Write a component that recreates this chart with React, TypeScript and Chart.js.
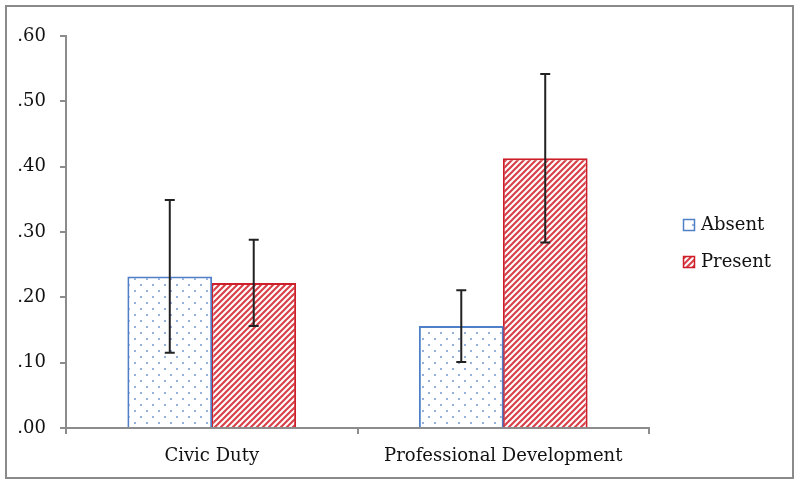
import React, { useEffect, useRef } from "react";
import { Chart, registerables } from "chart.js";

Chart.register(...registerables);

const categories = ["Civic Duty", "Professional Development"];
const seriesNames = ["Absent", "Present"];
const absentValues = [0.232, 0.156];
const presentValues = [0.222, 0.413];
const absentErrors = [0.117, 0.055];
const presentErrors = [0.066, 0.129];
const yMin = 0;
const yMax = 0.6;
const yStep = 0.1;

const FONT = "'DejaVu Serif', 'Liberation Serif', serif";
const BLUE = "#4f7fc6";
const RED = "#cc1f2a";
const AXIS = "#8c8c8c";

function makeDotPattern(): CanvasPattern | string {
  const c = document.createElement("canvas");
  c.width = 12;
  c.height = 12;
  const g = c.getContext("2d");
  if (!g) return "#ffffff";
  g.fillStyle = "#ffffff";
  g.fillRect(0, 0, 12, 12);
  g.fillStyle = "#7f9fd6";
  g.beginPath();
  g.arc(3, 3, 1.1, 0, Math.PI * 2);
  g.arc(9, 9, 1.1, 0, Math.PI * 2);
  g.fill();
  return g.createPattern(c, "repeat") || "#ffffff";
}

function makeStripePattern(): CanvasPattern | string {
  const s = 6;
  const c = document.createElement("canvas");
  c.width = s;
  c.height = s;
  const g = c.getContext("2d");
  if (!g) return RED;
  g.fillStyle = "#ffffff";
  g.fillRect(0, 0, s, s);
  g.strokeStyle = "#d8424a";
  g.lineWidth = 2.2;
  g.beginPath();
  g.moveTo(-1, s + 1);
  g.lineTo(s + 1, -1);
  g.moveTo(-1, 1);
  g.lineTo(1, -1);
  g.moveTo(s - 1, s + 1);
  g.lineTo(s + 1, s - 1);
  g.stroke();
  return g.createPattern(c, "repeat") || RED;
}

export default function App() {
  const ref = useRef<HTMLCanvasElement | null>(null);

  useEffect(() => {
    document.body.style.margin = "0";
    const canvas = ref.current;
    if (!canvas) return;
    const dots = makeDotPattern();
    const stripes = makeStripePattern();
    const errors = [absentErrors, presentErrors];
    const borderColors = [BLUE, RED];

    const frame = {
      id: "frame",
      beforeDraw(chart: any) {
        const ctx = chart.ctx;
        ctx.save();
        ctx.fillStyle = "#ffffff";
        ctx.fillRect(0, 0, chart.width, chart.height);
        ctx.strokeStyle = "#8a8a8a";
        ctx.lineWidth = 2;
        ctx.strokeRect(6, 6, 787, 472);
        ctx.restore();
      },
    };

    const errorBars = {
      id: "errorBars",
      afterDatasetsDraw(chart: any) {
        const ctx = chart.ctx;
        const y = chart.scales.y;
        ctx.save();
        ctx.strokeStyle = "#222222";
        ctx.lineWidth = 2;
        chart.data.datasets.forEach((ds: any, di: number) => {
          const meta = chart.getDatasetMeta(di);
          meta.data.forEach((bar: any, i: number) => {
            const v = ds.data[i];
            const e = errors[di][i];
            const x = bar.x;
            const yt = y.getPixelForValue(v + e);
            const yb = y.getPixelForValue(v - e);
            ctx.beginPath();
            ctx.moveTo(x, yt);
            ctx.lineTo(x, yb);
            ctx.moveTo(x - 5, yt);
            ctx.lineTo(x + 5, yt);
            ctx.moveTo(x - 5, yb);
            ctx.lineTo(x + 5, yb);
            ctx.stroke();
          });
        });
        ctx.restore();
      },
    };

    const legend = {
      id: "customLegend",
      afterDraw(chart: any) {
        const ctx = chart.ctx;
        ctx.save();
        const ys = [225, 262];
        chart.data.datasets.forEach((ds: any, di: number) => {
          const cy = ys[di];
          ctx.fillStyle = ds.backgroundColor;
          ctx.fillRect(683, cy - 6, 12, 12);
          ctx.strokeStyle = borderColors[di];
          ctx.lineWidth = 1.5;
          ctx.strokeRect(683.5, cy - 5.5, 11, 11);
          ctx.fillStyle = "#111111";
          ctx.font = `18px ${FONT}`;
          ctx.textBaseline = "middle";
          ctx.textAlign = "left";
          ctx.fillText(ds.label, 701, cy);
        });
        ctx.restore();
      },
    };

    const chart = new Chart(canvas, {
      type: "bar",
      data: {
        labels: categories,
        datasets: [
          {
            label: seriesNames[0],
            data: absentValues,
            backgroundColor: dots as any,
            borderColor: BLUE,
            borderWidth: 2,
            borderSkipped: "bottom",
            categoryPercentage: 0.576,
            barPercentage: 1.01,
          },
          {
            label: seriesNames[1],
            data: presentValues,
            backgroundColor: stripes as any,
            borderColor: RED,
            borderWidth: 2,
            borderSkipped: "bottom",
            categoryPercentage: 0.576,
            barPercentage: 1.01,
          },
        ],
      },
      options: {
        responsive: false,
        animation: false,
        layout: { padding: { left: 0, right: 151, top: 36, bottom: 0 } },
        plugins: {
          legend: { display: false },
          tooltip: { enabled: false },
        },
        scales: {
          x: {
            grid: {
              display: true,
              drawOnChartArea: false,
              drawTicks: true,
              tickLength: 6,
              color: AXIS,
              lineWidth: 2,
              offset: true,
            },
            border: { display: true, color: AXIS, width: 2 },
            ticks: {
              color: "#111111",
              font: { family: FONT, size: 18 },
              padding: 12,
              maxRotation: 0,
            },
            afterFit(scale: any) {
              scale.height = 57;
            },
          },
          y: {
            min: yMin,
            max: yMax,
            grid: {
              display: true,
              drawOnChartArea: false,
              drawTicks: true,
              tickLength: 6,
              color: AXIS,
              lineWidth: 2,
            },
            border: { display: true, color: AXIS, width: 2 },
            ticks: {
              stepSize: yStep,
              color: "#111111",
              font: { family: FONT, size: 18 },
              padding: 14,
              callback: (v: any) => Number(v).toFixed(2).replace(/^0/, ""),
            },
            afterFit(scale: any) {
              scale.width = 66;
            },
          },
        },
      },
      plugins: [frame, errorBars, legend],
    });
    return () => chart.destroy();
  }, []);

  return (
    <div style={{ position: "absolute", left: 0, top: 0, width: 800, height: 485 }}>
      <canvas ref={ref} width={800} height={485} />
    </div>
  );
}
